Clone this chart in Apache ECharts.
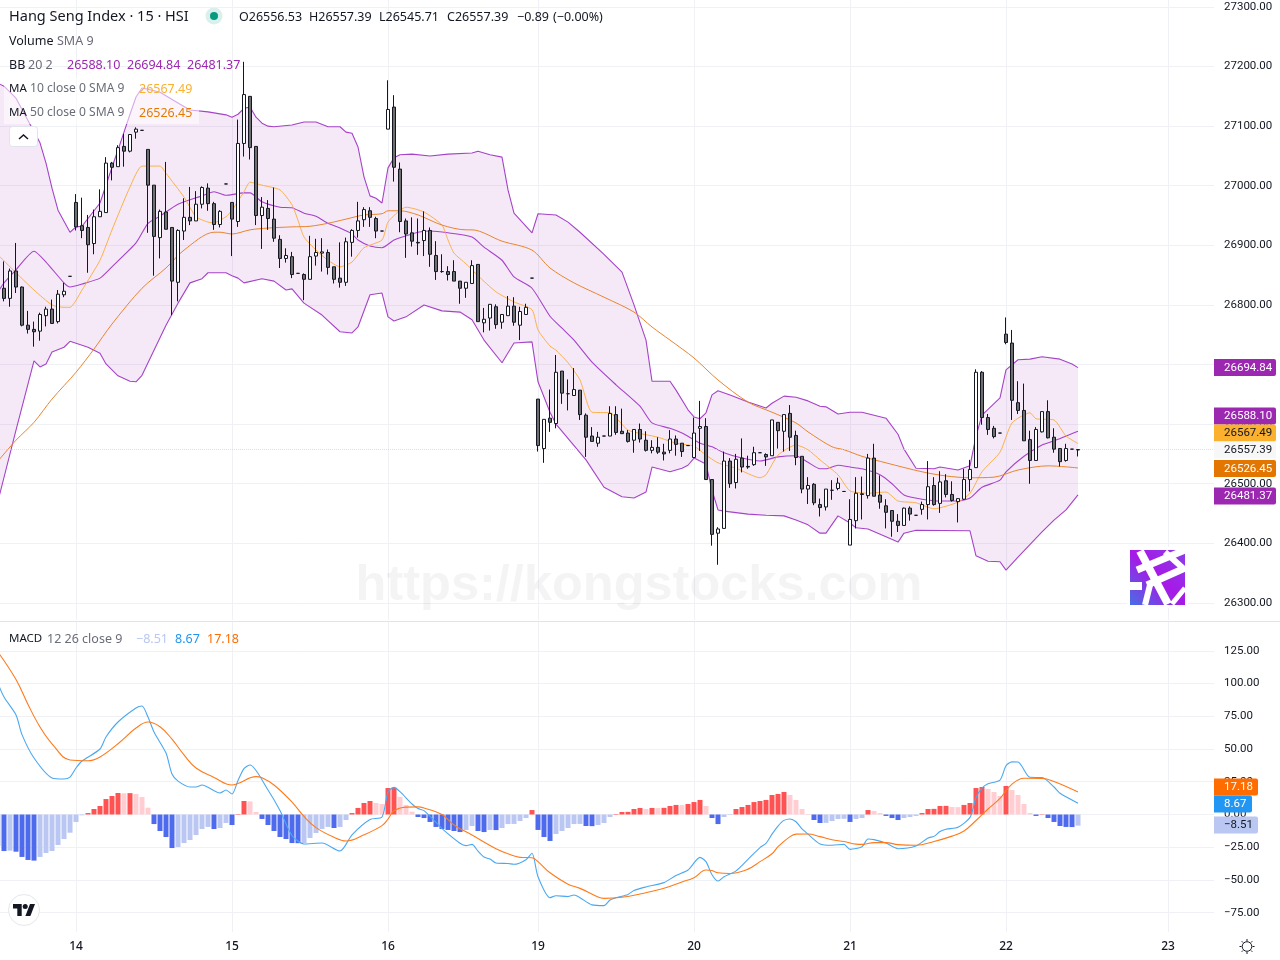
<html><head><meta charset="utf-8"><script src="https://cdn.jsdelivr.net/npm/echarts@6/dist/echarts.min.js"></script>
<style type="text/css">
html, body { height: 100%; margin: 0; padding: 0; background: #fff; }
</style></head><body><div id="main" style="width:1280px;height:960px;"></div><script type="text/javascript">
// bars are numbered from -1 (the one cut by the left edge) to 179
var open = [26884,26828,26811,26857,26830,26766,26759,26756,26782,26793,26772,26817,26848,26972,26933,26930,26903,26948,26955,27038,27032,27066,27058,27090,27093,27061,27001,26913,26956,26930,26838,26924,26947,26941,26969,26996,26970,26935,27003,26972,26940,27071,27150,27066,26950,26962,26944,26910,26878,26881,26853,26851,26843,26882,26887,26888,26864,26845,26838,26905,26925,26943,26958,26945,26924,27095,27132,27028,26941,26921,26905,26908,26925,26883,26856,26856,26856,26840,26828,26836,26868,26770,26778,26797,26771,26782,26798,26766,26784,26845,
26642,26559,26610,26601,26689,26651,26648,26657,26615,26580,26568,26580,26580,26616,26588,26585,26573,26591,26573,26556,26561,26553,26556,26575,26568,26564,26544,26593,26596,26507,26417,26425,26538,26502,26543,26529,26532,26552,26549,26547,26603,26588,26618,26581,26546,26491,26499,26465,26461,26489,26492,26487,26397,26438,26483,26480,26543,26481,26463,26455,26437,26430,26459,26447,26457,26465,26497,26467,26505,26482,26470,26474,26507,26527,26687,26611,26593,26585,26751,26736,26636,26623,26574,26539,26587,26621,26578,26559,26539,26558,26556.53];
var close = [26820,26811,26857,26830,26766,26759,26755,26784,26793,26769,26818,26823,26848,26931,26925,26901,26948,26957,27038,27031,27064,27058,27086,27095,27093,27001,26915,26957,26927,26840,26925,26947,26941,26969,26997,26970,26935,26957,27003,26944,27071,27153,27064,26950,26964,26945,26912,26878,26883,26851,26853,26843,26881,26888,26889,26863,26843,26838,26906,26925,26941,26960,26947,26924,26924,27128,27031,26940,26919,26907,26904,26925,26885,26856,26856,26851,26840,26828,26838,26866,26772,26776,26801,26767,26784,26798,26771,26789,26796,26845,
26564,26608,26603,26687,26652,26651,26658,26616,26578,26571,26578,26580,26618,26586,26584,26571,26591,26575,26556,26561,26553,26550,26575,26566,26554,26564,26585,26596,26507,26415,26424,26538,26500,26541,26528,26528,26552,26552,26545,26607,26589,26616,26578,26544,26491,26497,26468,26460,26491,26489,26501,26487,26440,26484,26482,26543,26479,26469,26452,26437,26430,26459,26449,26447,26465,26495,26465,26503,26482,26472,26475,26507,26524,26687,26611,26591,26579,26585,26737,26640,26623,26572,26539,26591,26621,26577,26558,26537,26559,26558,26557.39];
var low = [26820,26806,26797,26820,26764,26752,26730,26740,26764,26768,26769,26813,26848,26925,26912,26854,26885,26948,26955,27009,27032,27032,27056,27079,27093,26921,26849,26878,26927,26783,26806,26909,26934,26941,26962,26958,26926,26930,27003,26882,26931,27049,27044,26934,26894,26926,26906,26862,26871,26845,26853,26808,26843,26866,26856,26851,26836,26829,26832,26881,26913,26931,26931,26912,26924,27095,27007,26922,26879,26898,26884,26882,26864,26842,26854,26841,26840,26802,26812,26836,26772,26754,26757,26760,26760,26782,26765,26741,26784,26845,
26554,26535,26587,26593,26634,26623,26648,26607,26545,26571,26562,26580,26580,26582,26584,26569,26552,26569,26554,26551,26550,26539,26551,26547,26545,26564,26544,26555,26507,26396,26364,26425,26493,26492,26519,26525,26530,26552,26530,26547,26559,26554,26555,26531,26484,26466,26464,26445,26455,26473,26489,26487,26397,26425,26440,26475,26479,26458,26425,26411,26419,26430,26438,26447,26448,26440,26463,26451,26477,26470,26435,26473,26487,26527,26599,26582,26576,26585,26734,26607,26617,26572,26500,26539,26586,26576,26552,26529,26537,26558,26545.71];
var high = [26884,26873,26861,26904,26831,26790,26772,26787,26797,26809,26825,26837,26848,26986,26980,26951,26960,26994,27048,27040,27068,27087,27086,27098,27093,27061,27001,26960,27040,26930,26927,26979,26998,26991,26999,27004,26973,26959,27003,26972,27111,27208,27150,27066,26981,26976,26997,26917,26895,26889,26853,26853,26916,26911,26912,26893,26864,26905,26913,26927,26973,26964,26964,26948,26924,27177,27152,27039,26945,26947,26945,26957,26930,26907,26885,26865,26875,26840,26838,26875,26868,26795,26801,26801,26784,26815,26813,26797,26802,26845,
26642,26608,26658,26716,26689,26675,26694,26657,26618,26595,26587,26580,26630,26630,26626,26590,26591,26601,26588,26573,26578,26567,26590,26581,26568,26564,26611,26639,26610,26507,26427,26554,26543,26550,26576,26547,26562,26552,26551,26607,26603,26616,26632,26589,26546,26511,26501,26475,26491,26506,26510,26487,26474,26511,26512,26550,26567,26514,26474,26455,26449,26460,26462,26447,26470,26538,26511,26521,26516,26504,26475,26525,26540,26692,26689,26617,26597,26585,26779,26758,26672,26668,26589,26595,26621,26640,26593,26559,26567,26558,26557.39];

var bbUpper = [[-1,27172],[0,27167],[2,27147],[6,27072],[7,27038],[8,26996],[9,26959],[11,26922],[12,26931],[13,26932],[16,26971],[18,27031],[19,27060],[20,27090],[21,27120],[22,27149],[23,27164],[24,27162],[26,27157],[29,27139],[31,27127],[34,27124],[37,27119],[38,27115],[39,27120],[40,27130],[41,27132],[42,27115],[43,27105],[44,27100],[45,27099],[48,27102],[50,27107],[52,27107],[54,27099],[56,27099],[57,27090],[58,27088],[59,27065],[60,27015],[61,26983],[62,26979],[63,26971],[64,27030],[65,27047],[66,27052],[68,27053],[71,27050],[74,27053],[78,27055],[79,27058],[81,27052],[83,27048],[84,26993],[85,26954],[88,26921],[89,26953],[92,26951],[94,26939],[96,26922],[100,26885],[103,26855],[105,26800],[107,26741],[108,26672],[111,26672],[112,26657],[114,26624],[115,26612],[116,26609],[117,26619],[118,26649],[119,26656],[121,26649],[124,26637],[127,26627],[128,26635],[130,26647],[132,26645],[134,26639],[136,26630],[137,26629],[139,26617],[141,26620],[143,26620],[147,26610],[149,26583],[150,26558],[152,26526],[155,26525],[156,26528],[159,26523],[161,26530],[162,26580],[163,26615],[166,26644],[167,26691],[169,26708],[171,26709],[173,26713],[176,26709],[178,26701],[179,26694.84]];
var bbLower = [[-1,26471],[2,26590],[5,26706],[6,26696],[7,26701],[8,26721],[10,26729],[11,26739],[14,26729],[16,26719],[17,26701],[19,26681],[21,26672],[22,26671],[23,26682],[27,26766],[29,26803],[31,26837],[33,26844],[34,26854],[37,26854],[38,26849],[39,26845],[40,26837],[43,26844],[45,26840],[47,26825],[48,26827],[50,26803],[53,26783],[56,26755],[58,26753],[59,26763],[61,26817],[63,26820],[64,26780],[65,26773],[67,26780],[70,26800],[73,26790],[76,26788],[78,26775],[80,26741],[83,26703],[85,26736],[88,26738],[89,26671],[91,26620],[92,26600],[97,26540],[100,26494],[103,26478],[105,26476],[107,26486],[108,26528],[111,26520],[113,26526],[114,26531],[115,26543],[117,26533],[118,26489],[119,26456],[120,26454],[124,26449],[127,26447],[130,26446],[132,26439],[134,26431],[136,26417],[137,26417],[139,26446],[141,26434],[142,26426],[144,26424],[147,26411],[149,26402],[150,26417],[152,26422],[161,26421],[162,26379],[164,26370],[166,26369],[167,26355],[169,26377],[173,26419],[175,26439],[177,26456],[179,26481.37]];
var bbBasis = [[-1,26822],[0,26837],[2,26859],[5,26890],[7,26872],[10,26837],[11,26830],[13,26835],[16,26845],[18,26864],[22,26904],[24,26937],[26,26949],[29,26969],[33,26983],[35,26990],[37,26984],[40,26988],[41,26988],[43,26973],[46,26964],[48,26963],[50,26954],[52,26949],[54,26937],[56,26929],[58,26919],[59,26909],[61,26899],[63,26896],[65,26909],[67,26916],[69,26922],[71,26924],[74,26921],[78,26914],[80,26897],[83,26875],[85,26847],[88,26828],[91,26781],[93,26761],[95,26741],[98,26704],[102,26666],[106,26630],[108,26602],[111,26593],[113,26585],[116,26568],[118,26562],[120,26552],[123,26543],[126,26538],[129,26545],[132,26547],[134,26536],[136,26525],[137,26525],[139,26531],[141,26528],[143,26525],[146,26515],[148,26500],[150,26481],[153,26474],[156,26471],[159,26471],[161,26476],[163,26494],[166,26506],[167,26520],[170,26546],[173,26565],[175,26572],[179,26588.10]];
var ma10 = [[-1,26884],[2,26854],[5,26825],[8,26800],[10,26796],[11,26796],[13,26825],[16,26875],[18,26926],[21,26998],[23,27033],[26,27033],[27,27021],[30,26981],[32,26948],[34,26939],[35,26938],[37,26948],[38,26959],[40,26990],[41,27006],[43,27001],[46,26993],[48,26968],[49,26942],[50,26914],[52,26892],[54,26875],[56,26864],[58,26872],[60,26896],[63,26909],[64,26939],[66,26959],[67,26964],[70,26956],[73,26934],[74,26909],[75,26887],[77,26869],[79,26849],[82,26822],[85,26805],[88,26792],[89,26758],[91,26731],[92,26724],[94,26703],[96,26674],[98,26620],[101,26619],[104,26590],[109,26578],[112,26568],[115,26563],[117,26548],[119,26535],[122,26526],[126,26510],[127,26515],[129,26548],[132,26565],[134,26557],[136,26540],[139,26515],[141,26488],[144,26484],[147,26486],[149,26471],[152,26468],[155,26458],[159,26469],[161,26484],[163,26520],[166,26553],[168,26602],[171,26619],[172,26609],[175,26607],[177,26580],[179,26567.49]];
var ma50 = [[-1,26538],[2,26573],[5,26603],[8,26642],[12,26687],[15,26726],[18,26768],[23,26828],[27,26862],[30,26892],[35,26922],[36,26922],[38,26919],[41,26926],[44,26929],[48,26931],[51,26932],[54,26937],[57,26944],[60,26951],[63,26953],[64,26958],[66,26958],[69,26951],[73,26934],[77,26926],[78,26926],[83,26907],[88,26892],[91,26862],[95,26837],[100,26813],[105,26788],[108,26763],[111,26741],[115,26711],[119,26674],[124,26637],[128,26620],[132,26602],[134,26587],[138,26562],[140,26557],[143,26546],[147,26535],[153,26520],[157,26513],[161,26510],[165,26511],[169,26523],[174,26530],[179,26526.45]];

var hist = [-24.1,-27.9,-27.6,-28.4,-32.4,-34.7,-35.2,-32.4,-29.4,-27.9,-23.3,-18.7,-13.9,-5.7,-0.6,1.1,4.2,6.5,11.8,14.1,16.4,16.2,16.3,15.7,13.4,5.2,-7.3,-12.6,-17.2,-25.6,-24.8,-21.8,-19.5,-15.7,-11.1,-9.5,-11.1,-10.3,-6.5,-8,0.4,10.3,10,1.9,-3.4,-8,-12.6,-17.2,-18.7,-21.8,-21.9,-21.8,-17.9,-14.1,-11.1,-9.5,-10.3,-9.5,-4.2,1.1,5,8.8,10.3,8.8,8,20.2,20.5,13.5,7.3,2.2,-1.9,-2.7,-5.7,-9.5,-11.1,-11.8,-12.6,-13.4,-11.8,-8.8,-12.6,-13.4,-11.8,-11.9,-10.3,-7.3,-7.2,-5,-2.7,3.4,
-11.8,-17.2,-20.2,-14.9,-12.6,-10.3,-7.3,-7.2,-8.8,-8.9,-8,-6.5,-1.9,0.4,1.9,2,4.2,5,4.2,5,4.9,5.1,6.5,7.3,7.2,8,9.5,11.1,6.5,-2.7,-7.3,-1.9,-0.4,4.2,5.7,7.3,9.5,10.3,11.1,14.9,15.7,17.2,14.9,11.1,4.2,0.4,-4.2,-6.5,-6.4,-5,-3.4,-3.3,-5.7,-3.4,-2.7,3.4,2.7,1.1,-1.1,-2.7,-4.2,-2.7,-1.9,-1.1,1.1,4.2,4.3,6.5,6.6,5.7,5.6,7.3,8.8,20.2,21,19.5,17.2,14.1,21.8,18.7,14.9,8,1.1,-1.1,0.3,-2.7,-5.7,-8.8,-9.5,-9.6,-8.51];
var macdLine = [[-1,100],[0,89.7],[2,76],[3,61],[5,43.1],[8,27.9],[10,27.1],[11,28.6],[12,35.5],[13,40.8],[16,50],[17,59.2],[19,70.6],[22,81.3],[23,82.8],[24,74.4],[25,63],[27,46.9],[28,30.9],[29,25.5],[31,21],[32,21],[33,22.5],[36,16.4],[37,18.7],[38,15.6],[39,26],[40,35],[41,37.8],[44,18.7],[46,3],[48,-16],[50,-22.5],[53,-21.8],[56,-27.9],[58,-15.5],[61,-3.8],[63,-1.9],[64,17.2],[65,20.7],[66,17.4],[68,8],[69,4.5],[70,3],[72,-6],[73,-10.8],[76,-22],[77,-23.8],[78,-22.8],[79,-28],[80,-32.5],[81,-34],[82,-37],[84,-37.4],[85,-38],[87,-34.5],[88,-29.6],[89,-47.5],[91,-63.5],[92,-62],[94,-62.7],[95,-61.5],[96,-63.5],[98,-69],[100,-69.6],[101,-65.3],[102,-63.5],[104,-61],[105,-58],[107,-55.3],[110,-52],[112,-46.5],[114,-42.4],[116,-32.7],[117,-36],[118,-46],[119,-50.8],[120,-47.5],[122,-43],[124,-34.2],[126,-25.3],[127,-22],[128,-15],[129,-8.8],[130,-4.5],[131,-3.4],[132,-5.5],[133,-11],[134,-15],[136,-22.5],[138,-23.5],[140,-22.8],[141,-26.6],[143,-24.6],[144,-18.7],[145,-19.2],[147,-21.8],[149,-26.1],[152,-24],[154,-17.9],[155,-16.7],[156,-13],[157,-11.2],[159,-9.8],[161,-2.2],[162,13],[163,20.2],[164,23.5],[166,26.3],[167,37.2],[168,40.2],[169,40.1],[171,28.4],[173,28.2],[175,21],[176,16.2],[179,8.67]];
var signalLine = [[-1,124],[2,103],[4,84],[6,66.8],[8,54],[11,41.6],[14,41],[16,43.9],[19,54],[22,66],[24,70.6],[26,67],[28,57.5],[30,45.5],[32,35.5],[35,28.3],[38,22.5],[39,23.7],[42,28.9],[43,28],[45,22.5],[48,9.5],[50,-1.5],[52,-10],[55,-17.4],[57,-20.2],[60,-15.5],[63,-8.5],[64,-3.5],[65,2.8],[67,5.6],[69,5.8],[70,5],[73,0],[75,-8],[78,-15.7],[82,-26.2],[84,-30],[86,-32.7],[88,-33],[89,-36],[91,-44.5],[94,-53.2],[96,-56.4],[99,-63],[100,-64],[103,-63.2],[106,-60.7],[110,-56.3],[113,-51.5],[115,-48.2],[117,-42.4],[118,-42.8],[119,-44.5],[121,-45],[124,-41.7],[126,-36],[128,-30],[129,-24.6],[131,-16.9],[132,-15],[134,-14.9],[136,-16.9],[138,-19.3],[140,-20.6],[142,-22.6],[143,-22.8],[145,-21.5],[147,-21.5],[149,-23],[152,-23.5],[155,-20.6],[158,-16.5],[160,-12.6],[162,-4.6],[164,4.2],[166,12.3],[168,23.2],[170,27.7],[173,27.6],[175,25.2],[179,17.18]];

var dayBars = [12,38,64,89,115,141,167,194];
var dayLabels = ['14','15','16','19','20','21','22','23'];
var priceTicks = [26300,26400,26500,26600,26700,26800,26900,27000,27100,27200,27300];
var macdTicks = [-75,-50,-25,0,25,50,75,100,125];
var lastPrice = 26557.39;

var FONT = 'Noto Sans';
var SCALE_FONT = 'Roboto';
var GRID = '#f0f1f4';
var INK = '#131722';
var GREY = '#6a6d78';

var myChart = echarts.init(document.getElementById('main'));

function minus(s) { return s.replace('-', '\u2212'); }

function lineSeries(name, data, color, width, grid, smooth) {
    return {
        name: name, type: 'line', data: data, xAxisIndex: grid, yAxisIndex: grid,
        showSymbol: false, symbol: 'none', silent: true, z: 4, smooth: smooth || false,
        lineStyle: { color: color, width: width }
    };
}

function txt(x, y, s, color, size) {
    return { type: 'text', z: 20, silent: true, style: { x: x, y: y, text: s, fill: color, font: (size || 12.5) + 'px "' + FONT + '"', textVerticalAlign: 'middle', textAlign: 'left' } };
}

function tag(y, x2, s, bg, fg) {
    return [
        { type: 'rect', z: 21, silent: true, shape: { x: 1214, y: y - 8.5, width: x2 - 1214, height: 17, r: [0, 2, 2, 0] }, style: { fill: bg } },
        { type: 'text', z: 22, silent: true, style: { x: 1224, y: y + 0.5, text: s, fill: fg, font: '11.5px "' + SCALE_FONT + '"', textVerticalAlign: 'middle' } }
    ];
}

var marks = [];
// legend backdrop, then the legend rows
marks.push({ type: 'rect', z: 19, silent: true, shape: { x: 4, y: 77, width: 195, height: 47 }, style: { fill: 'rgba(255,255,255,0.55)' } });
marks.push(txt(9, 17, 'Hang Seng Index \u00b7 15 \u00b7 HSI', INK, 14.5));
marks.push({ type: 'circle', z: 20, silent: true, shape: { cx: 214, cy: 16, r: 8.5 }, style: { fill: '#d9f0ec' } });
marks.push({ type: 'circle', z: 20, silent: true, shape: { cx: 214, cy: 16, r: 4 }, style: { fill: '#089981' } });
marks.push(txt(239, 17, 'O26556.53', INK), txt(309, 17, 'H26557.39', INK), txt(379, 17, 'L26545.71', INK), txt(447, 17, 'C26557.39', INK), txt(517, 17, '\u22120.89', INK), txt(553, 17, '(\u22120.00%)', INK));
marks.push(txt(9, 41, 'Volume', INK), txt(57, 41, 'SMA 9', GREY));
marks.push(txt(9, 65, 'BB', INK), txt(28, 65, '20 2', GREY), txt(67, 65, '26588.10', '#9c27b0'), txt(127, 65, '26694.84', '#9c27b0'), txt(187, 65, '26481.37', '#9c27b0'));
marks.push(txt(9, 89, 'MA', INK, 11.5), txt(30, 89, '10 close 0 SMA 9', GREY, 12.1), txt(139, 89, '26567.49', '#fbb02e'));
marks.push(txt(9, 113, 'MA', INK, 11.5), txt(30, 113, '50 close 0 SMA 9', GREY, 12.1), txt(139, 113, '26526.45', '#e67a00'));
marks.push(txt(9, 639, 'MACD', INK, 11.5), txt(47, 639, '12 26 close 9', GREY), txt(136, 639, '\u22128.51', '#b9c7f2'), txt(175, 639, '8.67', '#2196f3'), txt(207, 639, '17.18', '#ff6d00'));
// collapse button
marks.push({ type: 'rect', z: 20, silent: true, shape: { x: 9.5, y: 126.5, width: 28, height: 20, r: 3 }, style: { fill: '#fff', stroke: '#e0e3eb' } });
marks.push({ type: 'polyline', z: 21, silent: true, shape: { points: [[19, 139], [23.5, 135], [28, 139]] }, style: { fill: 'none', stroke: INK, lineWidth: 1.5 } });
// pane separator and watermark
marks.push({ type: 'line', z: 6, silent: true, shape: { x1: 0, y1: 621.5, x2: 1280, y2: 621.5 }, style: { stroke: '#e0e3eb' } });
marks.push({ type: 'text', z: 1, silent: true, style: { x: 639, y: 586, text: 'https://kongstocks.com', fill: 'rgba(30,30,40,0.05)', font: 'bold 50.5px "Liberation Sans"', textAlign: 'center', textVerticalAlign: 'middle' } });
// logo square: gradient tile with white strokes over it
var logoBands = [[[1140, 551], [1168, 604], 8], [[1137, 570], [1185, 550], 7], [[1147, 585], [1185, 568], 7], [[1130, 586], [1142, 586], 8], [[1165, 552], [1185, 570], 6], [[1172, 604], [1185, 588], 5], [[1145, 605], [1150, 585], 6]];
marks.push({ type: 'rect', z: 3, silent: true, shape: { x: 1130, y: 550, width: 55, height: 55 }, style: { fill: new echarts.graphic.LinearGradient(1, 0, 0, 1, [{ offset: 0, color: '#8a3ee8' }, { offset: 0.5, color: '#a718e6' }, { offset: 1, color: '#4670e4' }]) } });
logoBands.forEach(function (b) {
    marks.push({ type: 'line', z: 3, silent: true, shape: { x1: b[0][0], y1: b[0][1], x2: b[1][0], y2: b[1][1] }, style: { stroke: '#fff', lineWidth: b[2] } });
});
// white frame clips the strokes back to the tile
marks.push({ type: 'rect', z: 3, silent: true, shape: { x: 1128.5, y: 548.5, width: 58, height: 58 }, style: { fill: 'none', stroke: '#fff', lineWidth: 3 } });
// tradingview badge
marks.push({ type: 'circle', z: 20, silent: true, shape: { cx: 24, cy: 910, r: 15.5 }, style: { fill: '#fff', stroke: '#e6e7ea' } });
marks.push({ type: 'polygon', z: 21, silent: true, shape: { points: [[13, 904], [21.7, 904], [21.7, 916], [17.3, 916], [17.3, 908.6], [13, 908.6]] }, style: { fill: INK } });
marks.push({ type: 'polygon', z: 21, silent: true, shape: { points: [[25.4, 916], [30, 904], [35, 904], [30.4, 916]] }, style: { fill: INK } });
marks.push({ type: 'circle', z: 21, silent: true, shape: { cx: 25.2, cy: 906.6, r: 2.5 }, style: { fill: INK } });
// settings icon
marks.push({ type: 'circle', z: 20, silent: true, shape: { cx: 1247, cy: 946.5, r: 4.8 }, style: { fill: 'none', stroke: INK, lineWidth: 1 } });
[[0, -7.5, 0, -5.5], [0, 5.5, 0, 7.5], [-7.5, 0, -5.5, 0], [5.5, 0, 7.5, 0], [-5.3, -5.3, -3.9, -3.9], [3.9, 3.9, 5.3, 5.3], [-5.3, 5.3, -3.9, 3.9], [3.9, -3.9, 5.3, -5.3]].forEach(function (r) {
    marks.push({ type: 'line', z: 20, silent: true, shape: { x1: 1247 + r[0], y1: 946.5 + r[1], x2: 1247 + r[2], y2: 946.5 + r[3] }, style: { stroke: INK, lineWidth: 1 } });
});
// price scale tags
marks = marks.concat(
    tag(367.5, 1276, '26694.84', '#9c27b0', '#fff'),
    tag(416, 1276, '26588.10', '#9c27b0', '#fff'),
    tag(433, 1276, '26567.49', '#fbb02e', '#131722'),
    tag(450, 1276, '26557.39', '#f7f7f7', '#131722'),
    tag(468.5, 1276, '26526.45', '#e27600', '#fff'),
    tag(496, 1276, '26481.37', '#9c27b0', '#fff'),
    tag(787, 1258, '17.18', '#ff6d00', '#fff'),
    tag(804, 1252, '8.67', '#2196f3', '#fff'),
    tag(825, 1258, '\u22128.51', '#b9c7f2', '#131722')
);

var candleData = open.map(function (o, k) { return [k - 1, o, close[k], low[k], high[k]]; });
var histData = hist.map(function (v, k) { return [k - 1, v]; });

function xAxisFor(grid, showLabel) {
    return {
        type: 'value', gridIndex: grid, min: -2 / 3, max: 201 + 2 / 3, position: 'bottom',
        axisLine: { show: false },
        axisTick: { show: false, customValues: dayBars },
        splitLine: { show: true, lineStyle: { color: GRID, width: 1 } },
        axisLabel: {
            show: showLabel, customValues: dayBars, margin: 9, color: INK, fontFamily: FONT, fontSize: 12, fontWeight: 500,
            formatter: function (v) { return dayLabels[dayBars.indexOf(v)]; }
        }
    };
}

function yAxisFor(grid, min, max, ticks) {
    return {
        type: 'value', gridIndex: grid, min: min, max: max, position: 'right', scale: true,
        axisLine: { show: false },
        axisTick: { show: false, customValues: ticks },
        splitLine: { show: true, lineStyle: { color: GRID, width: 1 } },
        axisLabel: {
            customValues: ticks, margin: 10, color: INK, fontFamily: SCALE_FONT, fontSize: 11.5, padding: [3, 0, 0, 0],
            formatter: function (v) { return minus(v.toFixed(2)); }
        }
    };
}

var option = {
    animation: false,
    backgroundColor: '#fff',
    grid: [
        { left: 0, top: 0, width: 1214, height: 620 },
        { left: 0, top: 622, width: 1214, height: 310 }
    ],
    xAxis: [xAxisFor(0, false), xAxisFor(1, true)],
    yAxis: [yAxisFor(0, 26271.3, 27311.7, priceTicks), yAxisFor(1, -89.7, 146.95, macdTicks)],
    series: [
        {
            // band between the two bollinger lines
            type: 'custom', xAxisIndex: 0, yAxisIndex: 0, silent: true, clip: true, z: 2,
            data: [[0, 26800]],
            renderItem: function (params, api) {
                var pts = bbUpper.map(function (p) { return api.coord(p); })
                    .concat(bbLower.slice().reverse().map(function (p) { return api.coord(p); }));
                return { type: 'polygon', shape: { points: pts }, style: { fill: 'rgba(156,39,176,0.1)' } };
            }
        },
        lineSeries('BB upper', bbUpper, '#a543c8', 1.1, 0),
        lineSeries('BB lower', bbLower, '#a543c8', 1.1, 0),
        lineSeries('BB basis', bbBasis, '#a543c8', 1.1, 0, 0.2),
        lineSeries('MA 10', ma10, '#fbb04a', 1, 0, 0.2),
        lineSeries('MA 50', ma50, '#e88530', 1, 0, 0.3),
        {
            name: 'HSI', type: 'candlestick', xAxisIndex: 0, yAxisIndex: 0, data: candleData, barWidth: 4, z: 5, silent: true,
            itemStyle: { color: '#ffffff', color0: '#6e6e6e', borderColor: INK, borderColor0: INK, borderWidth: 1 },
            markLine: {
                silent: true, symbol: 'none', animation: false, label: { show: false },
                lineStyle: { color: 'rgba(215,215,220,0.8)', type: 'dotted', width: 1 },
                data: [{ yAxis: lastPrice }]
            }
        },
        {
            name: 'Histogram', type: 'bar', xAxisIndex: 1, yAxisIndex: 1, data: histData, barWidth: 5, silent: true, z: 3,
            itemStyle: {
                color: function (p) {
                    var v = hist[p.dataIndex], prev = p.dataIndex > 0 ? hist[p.dataIndex - 1] : v - 1;
                    if (v >= 0) { return v > prev ? '#ff5252' : '#ffcdd2'; }
                    return v < prev ? '#4e6bee' : '#b9c7f2';
                }
            }
        },
        lineSeries('MACD', macdLine, '#4ba8f0', 1.1, 1, 0.25),
        lineSeries('Signal', signalLine, '#ff7a1a', 1.1, 1, 0.4)
    ],
    graphic: marks
};
myChart.setOption(option);
</script></body></html>
